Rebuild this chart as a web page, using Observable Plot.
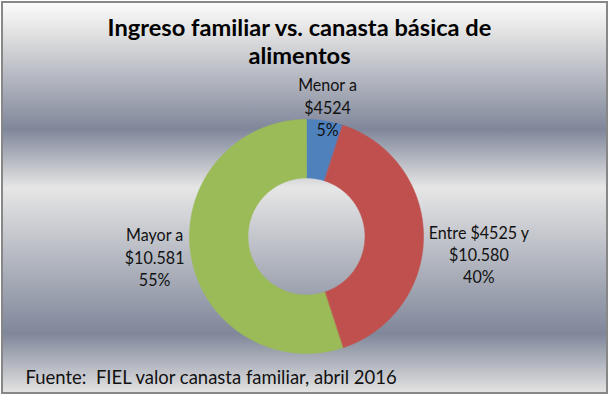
<!DOCTYPE html>
<html>
<head>
<meta charset="utf-8">
<script src="https://cdn.jsdelivr.net/npm/d3@7"></script>
<script src="https://cdn.jsdelivr.net/npm/@observablehq/plot@0.6"></script>
<style>
  body { margin: 0; background: #fff; }
  #wrap { position: relative; width: 613px; height: 396px; overflow: hidden; }
  #box {
    position: absolute; left: 1px; top: 1px; width: 603px; height: 389px;
    border: 2px solid #878787;
    background: linear-gradient(to bottom, #fbfbfb 0%, #e4e4e4 7%, #80879a 32.5%, #e6e6e6 47.5%, #80879a 85%, #e2e2e2 100%);
  }
  #chart { position: absolute; left: 0; top: 0; }
</style>
</head>
<body>
<div id="wrap"><div id="box"></div><div id="chart"></div></div>
<script>
// ---- data ----
const titleLines = ["Ingreso familiar vs. canasta básica de", "alimentos"];
const categories = ["Menor a\n$4524", "Entre $4525 y\n$10.580", "Mayor a\n$10.581"];
const shares = [5, 40, 55];
const percentLabels = ["5%", "40%", "55%"];
const colors = ["#4F81BD", "#C0504D", "#9BBB59"];
const caption = "Fuente:\u00a0 FIEL valor canasta familiar, abril 2016";

// ---- layout ----
const W = 613, H = 396, cx = 306, cy = 236, R = 117, inner = 0.5;
const FONT = "Lato, 'Open Sans', sans-serif";
const titleSize = 23.3, labelSize = 16.8, captionSize = 18.6;
const ctx = document.createElement("canvas").getContext("2d");
function measure(text, weight, size) { ctx.font = `${weight} ${size}px Lato`; return ctx.measureText(text).width; }
// horizontal condensing so the fallback font keeps the reference text widths
const sTitle = 385 / measure(titleLines[0], "bold", titleSize);
const sLabel = 100.7 / measure("Entre $4525 y", "normal", labelSize);
const sCap = 372.7 / measure(caption, "normal", captionSize);

// slices
const total = d3.sum(shares);
let acc = 0;
const slices = categories.map((cat, i) => {
  const a0 = acc / total * 2 * Math.PI; acc += shares[i];
  const a1 = acc / total * 2 * Math.PI;
  return {cat, pct: percentLabels[i], a0, a1, mid: (a0 + a1) / 2};
});
const points = [];
for (const s of slices) {
  const n = Math.max(2, Math.ceil((s.a1 - s.a0) / (Math.PI / 360)));
  for (let k = 0; k <= n; k++) { const a = s.a0 + (s.a1 - s.a0) * k / n; points.push({cat: s.cat, x: Math.sin(a), y: Math.cos(a)}); }
  for (let k = n; k >= 0; k--) { const a = s.a0 + (s.a1 - s.a0) * k / n; points.push({cat: s.cat, x: inner * Math.sin(a), y: inner * Math.cos(a)}); }
}

// label positions derived from slice angles (Excel-like outside-end)
const gap = 1.043;
const nudgePx = [0, 17.5, 1];
const labels = slices.map((s, i) => {
  const lines = (s.cat + "\n" + s.pct).split("\n");
  const w = d3.max(lines, l => measure(l, "normal", labelSize)) * sLabel;
  const sx = Math.sin(s.mid);
  let x, y;
  if (sx > 0.5) { x = gap + w / 2 / R; y = Math.cos(s.mid) * gap - nudgePx[i] / R; }
  else if (sx < -0.5) { x = -gap - w / 2 / R; y = Math.cos(s.mid) * gap - nudgePx[i] / R; }
  else { x = Math.sin(s.mid) * 1.15; y = 1.111; }
  return {x, y, text: lines.join("\n")};
});

const chart = Plot.plot({
  width: W, height: H, margin: 0,
  x: {domain: [-cx / R, (W - cx) / R], axis: null},
  y: {domain: [-(H - cy) / R, cy / R], axis: null},
  color: {domain: categories, range: colors},
  style: {background: "transparent", fontFamily: FONT, overflow: "visible"},
  marks: [
    Plot.line(points, {x: "x", y: "y", z: "cat", fill: "cat", stroke: "cat", strokeWidth: 0.6, curve: "linear-closed"}),
    Plot.text(labels, {x: "x", y: "y", text: "text", fontSize: labelSize, lineHeight: 1.33, lineAnchor: "middle", textAnchor: "middle", fill: "#111"}),
    Plot.text([titleLines.join("\n")], {frameAnchor: "top", dx: -7.5, dy: 15, lineAnchor: "top", fontSize: titleSize, fontWeight: "bold", lineHeight: 1.215, fill: "#000"}),
    Plot.text([caption], {frameAnchor: "bottom-left", dx: 25, dy: -18, lineAnchor: "middle", textAnchor: "start", fontSize: captionSize, fill: "#111"})
  ]
});

// apply horizontal condensing around each text anchor
const groups = d3.select(chart).selectAll('g[aria-label="text"]').nodes();
const scales = [sLabel, sTitle, sCap];
groups.forEach((g, gi) => {
  d3.select(g).selectAll("text").each(function() {
    const el = d3.select(this);
    let t = el.attr("transform");
    if (!t) {
      const x = +(el.attr("x") || 0), y = +(el.attr("y") || 0);
      t = `translate(${x},${y})`;
      el.attr("x", null).attr("y", null);
    }
    el.attr("transform", `${t} scale(${scales[gi]},1)`);
  });
});
document.getElementById("chart").appendChild(chart);
</script>
</body>
</html>
